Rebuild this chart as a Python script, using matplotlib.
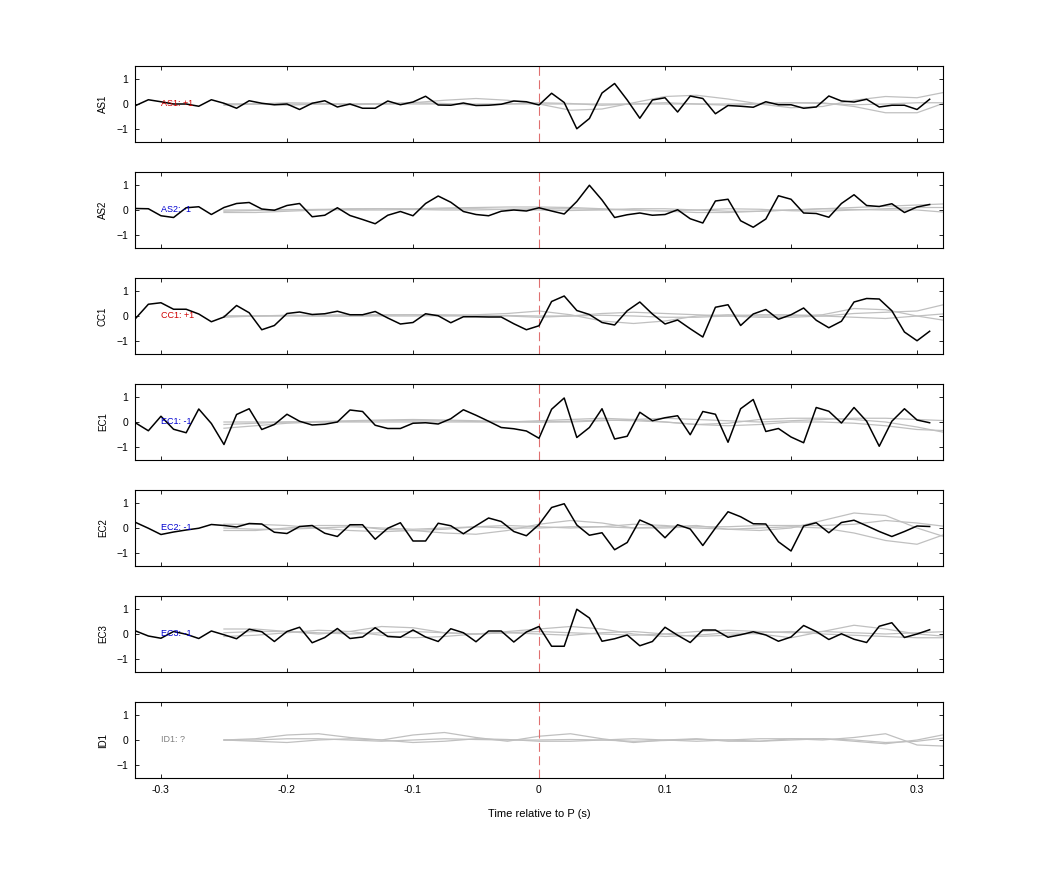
import numpy as np
import matplotlib
matplotlib.use("Agg")
import matplotlib.pyplot as plt

t_black = np.round(np.arange(-0.32, 0.3101, 0.01), 3)
t_gray = np.round(np.arange(-0.25, 0.3251, 0.025), 3)

stations = ["AS1", "AS2", "CC1", "EC1", "EC2", "EC3", "ID1"]
polarity = ["+1", "-1", "+1", "-1", "-1", "-1", "?"]
pol_colors = ["#d00000", "#0000d0", "#d00000", "#0000d0", "#0000d0", "#0000d0", "#808080"]

AS1 = [-0.06,0.17,0.09,0,0,-0.09,0.17,0.03,-0.17,0.13,0.03,-0.03,0,-0.22,0.03,0.13,-0.12,0,-0.17,-0.17,
       0.12,-0.03,0.08,0.31,-0.04,-0.05,0.04,-0.06,-0.05,-0.01,0.12,0.09,-0.04,0.43,0.06,-0.99,-0.58,0.44,0.82,0.16,
       -0.57,0.16,0.25,-0.32,0.32,0.22,-0.39,-0.06,-0.09,-0.13,0.09,-0.03,-0.03,-0.17,-0.12,0.32,0.12,0.08,0.19,-0.12,
       -0.05,-0.05,-0.22,0.19]
AS2 = [0.06,0.05,-0.23,-0.3,0.09,0.13,-0.18,0.1,0.26,0.3,0.04,-0.01,0.18,0.26,-0.27,-0.21,0.09,-0.22,-0.38,-0.55,
       -0.21,-0.06,-0.23,0.26,0.56,0.31,-0.06,-0.18,-0.23,-0.05,0,-0.04,0.09,-0.04,-0.16,0.34,0.99,0.4,-0.3,-0.19,
       -0.12,-0.21,-0.18,0.01,-0.35,-0.52,0.36,0.43,-0.43,-0.69,-0.36,0.57,0.43,-0.12,-0.14,-0.29,0.26,0.61,0.18,0.14,
       0.25,-0.1,0.12,0.22]
CC1 = [-0.09,0.47,0.53,0.27,0.27,0.08,-0.23,-0.04,0.42,0.13,-0.55,-0.38,0.1,0.16,0.06,0.09,0.19,0.05,0.05,0.18,
       -0.08,-0.32,-0.26,0.09,0.01,-0.27,-0.03,-0.03,-0.04,-0.04,-0.31,-0.55,-0.39,0.58,0.8,0.22,0.06,-0.26,-0.36,0.21,
       0.56,0.08,-0.32,-0.16,-0.51,-0.84,0.35,0.45,-0.38,0.08,0.26,-0.13,0.05,0.32,-0.17,-0.47,-0.21,0.56,0.7,0.68,
       0.21,-0.64,-0.99,-0.61]
EC1 = [-0.04,-0.35,0.23,-0.29,-0.43,0.52,-0.06,-0.9,0.3,0.53,-0.3,-0.1,0.31,0.03,-0.12,-0.09,0,0.48,0.42,-0.13,
       -0.26,-0.26,-0.05,-0.03,-0.08,0.13,0.49,0.27,0.03,-0.22,-0.27,-0.36,-0.65,0.51,0.96,-0.62,-0.22,0.53,-0.68,-0.57,
       0.39,0.05,0.17,0.25,-0.51,0.42,0.31,-0.81,0.53,0.9,-0.38,-0.26,-0.6,-0.83,0.58,0.43,-0.04,0.58,0.03,-0.97,
       0.03,0.53,0.08,-0.03]
EC2 = [0.22,-0.01,-0.26,-0.16,-0.08,-0.01,0.14,0.1,0.04,0.18,0.16,-0.17,-0.22,0.06,0.1,-0.21,-0.34,0.13,0.13,-0.45,
       -0.01,0.21,-0.52,-0.52,0.19,0.09,-0.23,0.09,0.4,0.26,-0.14,-0.31,0.14,0.82,0.97,0.12,-0.29,-0.19,-0.87,-0.58,
       0.32,0.1,-0.39,0.13,-0.04,-0.7,0,0.65,0.45,0.17,0.16,-0.55,-0.92,0.08,0.21,-0.19,0.22,0.31,0.09,-0.14,
       -0.34,-0.14,0.08,0.06]
EC3 = [0.12,-0.08,-0.17,0.1,-0.01,-0.18,0.12,-0.03,-0.19,0.19,0.09,-0.3,0.1,0.27,-0.35,-0.14,0.22,-0.18,-0.12,0.25,
       -0.1,-0.13,0.16,-0.12,-0.3,0.21,0.05,-0.31,0.12,0.12,-0.32,0.08,0.3,-0.49,-0.49,0.99,0.64,-0.29,-0.19,-0.04,
       -0.47,-0.3,0.27,-0.05,-0.34,0.16,0.16,-0.13,-0.03,0.09,-0.04,-0.29,-0.12,0.34,0.1,-0.22,0.01,-0.21,-0.34,0.31,
       0.45,-0.14,0,0.17]
black_traces = [AS1, AS2, CC1, EC1, EC2, EC3, None]

# gray synthetic traces, sampled every 0.025 s from -0.25 to 0.325
AS1_gray = [
    [0,0,-0.05,0,0,0.02,0.05,0.15,0.22,0.15,0,-0.25,-0.2,0.05,0.3,0.35,0.2,0,-0.15,-0.1,0.15,0.3,0.25,0.5],
    [0,0,0,0,0,0,0,0,0,0,0,0,0,0,0,0,0,0.02,0.05,0.05,-0.1,-0.35,-0.35,0.1],
    [-0.05,0,0.05,0.03,-0.03,0,0.05,0.02,-0.05,0,0.05,0.02,-0.05,0,0.05,0,-0.05,0,0.05,0.02,-0.03,0,0.05,0.05],
]
AS2_gray = [
    [-0.1,-0.1,-0.05,0,0.03,0.05,0.05,0.08,0.1,0.12,0.12,0.1,0.05,0,-0.05,-0.1,-0.1,-0.05,0,0.05,0.1,0.15,0.2,0.25],
    [0,0,0.02,0.02,0,0,0.02,0.05,0.05,0.02,0,-0.02,0,0.05,0.05,0,-0.05,-0.05,0,0.05,0.02,0,0,-0.1],
    [-0.05,-0.02,0,0.02,0.05,0.05,0.02,0,0,0.03,0.05,0.05,0.02,0,-0.03,0,0.05,0.03,-0.03,-0.05,0,0.05,0.1,0.1],
]
CC1_gray = [
    [0,0,0,0,0,0,0,0.02,0.05,0.1,0.2,0.05,-0.2,-0.3,-0.2,0,0.05,0,0,0.05,0.3,0.25,0,-0.2],
    [0,0,0.02,0.03,0.05,0.05,0.05,0.05,0.02,0,-0.05,0,0.1,0.15,0.1,0.05,0,-0.05,-0.05,0,0.1,0.15,0.2,0.5],
    [-0.05,0,0.03,0,0,0.03,0.05,0,0,0.02,0,0,0.03,0,-0.05,-0.05,0,0.05,0.05,0,-0.05,-0.1,0,0.1],
]
EC1_gray = [
    [-0.25,-0.15,-0.05,0,0.03,0.05,0.05,0.05,0.02,0,0.05,0.1,0.15,0.1,0,-0.1,-0.05,0.1,0.15,0.15,0.1,0,-0.2,-0.45],
    [0,0,0,0.02,0.05,0.08,0.1,0.08,0.05,0.02,0,0,0.05,0.1,0.15,0.1,0.05,0,0.05,0.1,0.15,0.15,0.1,0.05],
    [-0.1,-0.05,0,0,0,0,0,0,0,0,0,0.03,0.08,0.05,0,-0.1,-0.15,-0.1,0,0,-0.05,-0.15,-0.3,-0.35],
]
EC2_gray = [
    [0.15,0.15,0.1,0,-0.1,-0.15,-0.1,-0.2,-0.25,-0.1,0.15,0.3,0.2,0,0.05,0.1,-0.05,-0.1,0,0.3,0.6,0.5,0,-0.4],
    [-0.1,-0.1,0,0.1,0.1,-0.05,-0.1,-0.05,0.05,0.1,0.05,0,0.05,0.15,0.1,0,-0.05,0,0.05,0,-0.2,-0.5,-0.65,-0.2],
    [0,-0.05,-0.05,0,0.05,0,-0.05,0,0.05,0,0,0.05,0.05,0,0,0.05,0.05,0.1,0.1,0.1,0.15,0.3,0.2,0.05],
]
EC3_gray = [
    [0.2,0.2,0.1,0,0.1,0.3,0.25,0.05,0,0.1,0.2,0.3,0.2,0,-0.1,-0.05,0.05,0,-0.15,0.1,0.35,0.2,0,-0.1],
    [-0.1,-0.05,0.05,0.15,0.1,-0.05,-0.15,-0.1,0,0.05,0,-0.05,0.05,0.1,0,-0.1,-0.05,0.05,0.1,0,-0.05,-0.1,-0.15,-0.15],
    [0.05,0.1,0.1,0.05,0,0.05,0.1,0.05,0,0.05,0.1,0.05,0,-0.05,0,0.1,0.15,0.1,0.05,0.1,0.05,0,0.05,0.1],
]
ID1_gray = [
    [0,0.05,0.2,0.25,0.1,0,0.2,0.3,0.1,-0.05,0.15,0.25,0.05,-0.1,0,0.05,-0.05,-0.05,0.05,0.05,-0.05,-0.15,0,0.25],
    [0,-0.05,-0.1,0,0.05,0,-0.1,-0.05,0.05,0.02,-0.05,-0.05,0,0.05,0,-0.05,0,0.05,0.05,0,0.1,0.25,-0.2,-0.25],
    [0,0,0.05,0.05,0,-0.05,0,0.05,0.02,0,0,0.02,0,-0.05,-0.02,0.03,0,-0.05,0,0.05,0,-0.1,-0.05,0.1],
]
gray_traces = [AS1_gray, AS2_gray, CC1_gray, EC1_gray, EC2_gray, EC3_gray, ID1_gray]

plt.rcParams['font.family'] = ['Liberation Sans', 'DejaVu Sans']
fig = plt.figure(figsize=(10.42, 8.75), dpi=100)
W, H = 1042, 875
left, right = 135, 943
tops = [66, 172, 278, 384, 490, 596, 702]
ph = 76
for i, st in enumerate(stations):
    ax = fig.add_axes([left / W, 1 - (tops[i] + ph) / H, (right - left) / W, ph / H])
    for g in gray_traces[i]:
        ax.plot(t_gray, g, color='#c0c0c0', lw=0.9, zorder=1)
    ax.axvline(0, color='#e07070', lw=0.8, ls=(0, (8, 4)), zorder=2)
    if black_traces[i] is not None:
        ax.plot(t_black, black_traces[i], color='black', lw=1.1, zorder=3)
    ax.text(-0.3, 0, f"{st}: {polarity[i]}", color=pol_colors[i], fontsize=6.5,
            va='center', ha='left', zorder=4)
    ax.set_xlim(-0.3206, 0.3206)
    ax.set_ylim(-1.52, 1.52)
    ax.set_yticks([-1, 0, 1])
    ax.set_xticks([-0.3, -0.2, -0.1, 0, 0.1, 0.2, 0.3])
    ax.set_ylabel(st, fontsize=7, labelpad=6)
    ax.tick_params(direction='in', top=True, right=True, labelsize=7.5, length=3, width=0.6, pad=5)
    for s in ax.spines.values():
        s.set_linewidth(0.8)
    if i < len(stations) - 1:
        ax.set_xticklabels([])
    else:
        ax.set_xticklabels(["-0.3", "-0.2", "-0.1", "0", "0.1", "0.2", "0.3"])
        ax.set_xlabel("Time relative to P (s)", fontsize=8, labelpad=10)

fig.savefig("out.png", dpi=100)
